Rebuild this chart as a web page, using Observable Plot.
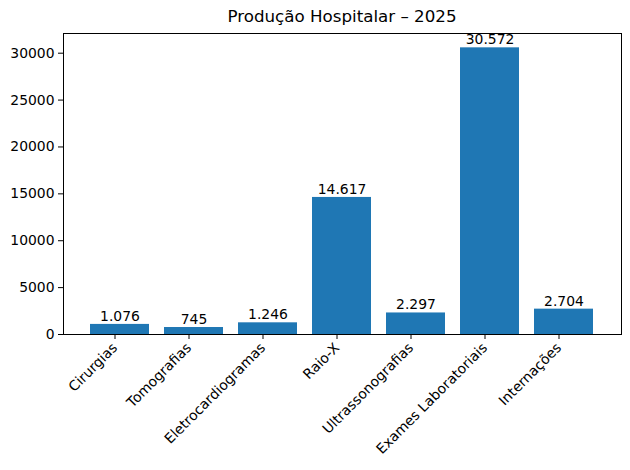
<!DOCTYPE html>
<html>
<head>
<meta charset="utf-8">
<script src="https://cdn.jsdelivr.net/npm/d3@7"></script>
<script src="https://cdn.jsdelivr.net/npm/@observablehq/plot@0.6"></script>
<style>
  body { margin: 0; background: #fff; }
  #wrap { position: relative; width: 630px; height: 470px; font-family: "DejaVu Sans", sans-serif; }
  #title { position: absolute; left: 63px; width: 558px; top: 6px; text-align: center; font-size: 16.7px; color: #000; }
  svg { font-family: "DejaVu Sans", sans-serif; }
</style>
</head>
<body>
<div id="wrap"><div id="title">Produção Hospitalar – 2025</div></div>
<script>
const categories = ["Cirurgias", "Tomografias", "Eletrocardiogramas", "Raio-X", "Ultrassonografias", "Exames Laboratoriais", "Internações"];
const values = [1076, 745, 1246, 14617, 2297, 30572, 2704];
const yTicks = [0, 5000, 10000, 15000, 20000, 25000, 30000];

const data = categories.map((c, i) => ({category: c, value: values[i]}));
const fmt = v => d3.format(",")(v).replace(/,/g, ".");

const chart = Plot.plot({
  width: 630,
  height: 470,
  marginLeft: 63,
  marginRight: 9,
  marginTop: 33,
  marginBottom: 136,
  style: {fontSize: "13.9px", fontFamily: "DejaVu Sans, sans-serif", color: "#000", background: "#fff"},
  x: {type: "band", domain: categories, paddingInner: 0.2, paddingOuter: 0.34, align: 0.5},
  y: {domain: [0, 30572 * 1.05]},
  marks: [
    Plot.barY(data, {x: "category", y: "value", fill: "#1f77b4"}),
    Plot.text(data, {x: "category", y: "value", text: d => fmt(d.value), textAnchor: "middle", dy: -8, fill: "#000", fontSize: 13.9}),
    Plot.frame({stroke: "#000", strokeWidth: 1}),
    Plot.axisY({ticks: yTicks, tickFormat: d => String(d), tickSize: 5, tickPadding: 4, label: null, stroke: "#000", fill: "#000", fontSize: 13.9}),
    Plot.axisX({tickRotate: -45, tickSize: 5, tickPadding: 6, dx: -5, label: null, stroke: "#000", fill: "#000", fontSize: 13.9})
  ]
});
document.getElementById("wrap").appendChild(chart);
</script>
</body>
</html>
